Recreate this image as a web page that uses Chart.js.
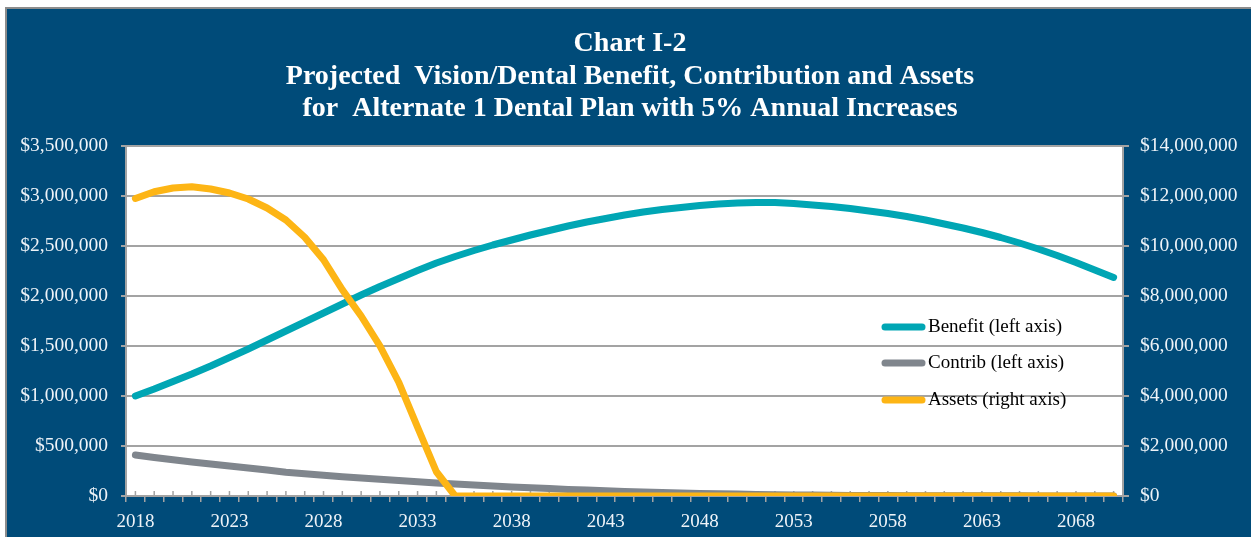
<!DOCTYPE html>
<html>
<head>
<meta charset="utf-8">
<script src="https://cdn.jsdelivr.net/npm/chart.js@4.4.1/dist/chart.umd.min.js"></script>
<style>
  html, body { margin: 0; padding: 0; background: #ffffff; overflow: hidden; }
  #wrap { position: relative; width: 1251px; height: 537px; overflow: hidden; }
  #panel { position: absolute; left: 5px; top: 7px; width: 1244px; height: 528px;
           background: #004b79; border-left: 2px solid #8c8c8c; border-top: 2px solid #8c8c8c; }
  #c { position: absolute; left: 0; top: 0; }
</style>
</head>
<body>
<div id="wrap">
  <div id="panel"></div>
  <canvas id="c" width="1251" height="537"></canvas>
</div>
<script>
const titleLines = [
  'Chart I-2',
  'Projected  Vision/Dental Benefit, Contribution and Assets',
  'for  Alternate 1 Dental Plan with 5% Annual Increases'
];

const years = [
  '2018','2019','2020','2021','2022','2023','2024','2025','2026','2027',
  '2028','2029','2030','2031','2032','2033','2034','2035','2036','2037',
  '2038','2039','2040','2041','2042','2043','2044','2045','2046','2047',
  '2048','2049','2050','2051','2052','2053','2054','2055','2056','2057',
  '2058','2059','2060','2061','2062','2063','2064','2065','2066','2067',
  '2068','2069','2070'
];

const xTickLabels = ['2018','2023','2028','2033','2038','2043','2048','2053','2058','2063','2068'];
const leftTickValues = [0, 500000, 1000000, 1500000, 2000000, 2500000, 3000000, 3500000];
const rightTickValues = [0, 2000000, 4000000, 6000000, 8000000, 10000000, 12000000, 14000000];

const benefit = [
  1000000, 1070000, 1145000, 1220000, 1300000, 1385000, 1470000, 1560000, 1650000, 1740000,
  1830000, 1920000, 2010000, 2095000, 2175000, 2255000, 2330000, 2395000, 2455000, 2510000,
  2560000, 2610000, 2655000, 2700000, 2740000, 2775000, 2810000, 2840000, 2865000, 2885000,
  2905000, 2920000, 2930000, 2935000, 2935000, 2925000, 2910000, 2895000, 2875000, 2850000,
  2825000, 2795000, 2760000, 2720000, 2680000, 2635000, 2585000, 2530000, 2470000, 2405000,
  2335000, 2260000, 2185000
];

const contrib = [
  410000, 385000, 362000, 340000, 319000, 299000, 280000, 260000, 238000, 222000,
  207000, 193000, 180000, 167000, 154000, 142000, 131000, 120000, 110000, 100000,
  91000, 82000, 74000, 66000, 59000, 52000, 46000, 40000, 35000, 30000,
  26000, 22000, 19000, 16000, 13000, 11000, 9000, 7500, 6000, 5000,
  4000, 3500, 3000, 2500, 2000, 1800, 1600, 1400, 1200, 1000,
  900, 800, 700
];

const assets = [
  11900000, 12170000, 12320000, 12370000, 12280000, 12120000, 11880000, 11520000, 11040000, 10350000,
  9450000, 8250000, 7200000, 6000000, 4550000, 2750000, 970000, 0, 0, 0,
  0, 0, 0, 0, 0, 0, 0, 0, 0, 0,
  0, 0, 0, 0, 0, 0, 0, 0, 0, 0,
  0, 0, 0, 0, 0, 0, 0, 0, 0, 0,
  0, 0, 0
];

const seriesNames = ['Benefit (left axis)', 'Contrib (left axis)', 'Assets (right axis)'];
const seriesColors = ['#00a6b4', '#80868d', '#fdb515'];

const serif = '"Liberation Serif", "Times New Roman", serif';
const labelColor = '#eef3f8';
const gridColor = '#a3a3a3';

function money(v) { return '$' + Number(v).toLocaleString('en-US'); }

const plotBg = {
  id: 'plotBg',
  beforeDraw(chart) {
    const a = chart.chartArea, ctx = chart.ctx;
    ctx.save();
    ctx.fillStyle = '#ffffff';
    ctx.fillRect(a.left, a.top, a.right - a.left, a.bottom - a.top);
    ctx.restore();
  }
};

// small inner tick marks at category centres, as in the original axis
const innerTicks = {
  id: 'innerTicks',
  beforeDatasetsDraw(chart) {
    const x = chart.scales.x, ctx = chart.ctx, b = chart.chartArea.bottom;
    ctx.save();
    ctx.strokeStyle = gridColor;
    ctx.lineWidth = 1.5;
    ctx.beginPath();
    for (let i = 0; i < chart.data.labels.length; i++) {
      const px = x.getPixelForValue(i);
      ctx.moveTo(px, b);
      ctx.lineTo(px, b - 5);
    }
    ctx.stroke();
    ctx.restore();
  }
};

const innerLegend = {
  id: 'innerLegend',
  afterDatasetsDraw(chart) {
    const ctx = chart.ctx;
    const rows = [327, 363, 400];
    ctx.save();
    chart.data.datasets.forEach((ds, i) => {
      const y = rows[i];
      ctx.strokeStyle = ds.borderColor;
      ctx.lineWidth = 7;
      ctx.lineCap = 'round';
      ctx.beginPath();
      ctx.moveTo(885, y);
      ctx.lineTo(922, y);
      ctx.stroke();
      ctx.fillStyle = '#000000';
      ctx.font = '19px ' + serif;
      ctx.textBaseline = 'middle';
      ctx.textAlign = 'left';
      ctx.fillText(ds.label, 928, y);
    });
    ctx.restore();
  }
};

new Chart(document.getElementById('c'), {
  type: 'line',
  data: {
    labels: years,
    datasets: [
      { label: seriesNames[0], data: benefit, yAxisID: 'yL', borderColor: seriesColors[0], order: 1 },
      { label: seriesNames[1], data: contrib, yAxisID: 'yL', borderColor: seriesColors[1], order: 2 },
      { label: seriesNames[2], data: assets, yAxisID: 'yR', borderColor: seriesColors[2], order: 0 }
    ]
  },
  options: {
    responsive: false,
    animation: false,
    events: [],
    datasets: {
      line: {
        borderWidth: 7, pointRadius: 0, tension: 0, fill: false,
        borderCapStyle: 'round', borderJoinStyle: 'round'
      }
    },
    layout: { padding: { left: 9, right: 0, top: 0, bottom: 0 } },
    plugins: {
      legend: { display: false },
      tooltip: { enabled: false },
      title: {
        display: true,
        text: titleLines,
        color: '#ffffff',
        font: { family: serif, size: 28, weight: 'bold', lineHeight: 1.15 },
        padding: { top: 28, bottom: 21.4 }
      }
    },
    scales: {
      x: {
        type: 'category',
        offset: true,
        grid: { display: true, drawOnChartArea: false, drawTicks: true, tickLength: 6, offset: true, color: gridColor, lineWidth: 1.5 },
        border: { display: true, color: gridColor, width: 2 },
        ticks: {
          autoSkip: false, maxRotation: 0, minRotation: 0, padding: 9,
          color: labelColor, font: { family: serif, size: 19 },
          callback(value) { const l = this.getLabelForValue(value); return xTickLabels.includes(l) ? l : ''; }
        },
        afterFit(s) { s.height = 41; }
      },
      yL: {
        type: 'linear', position: 'left', min: 0, max: 3500000,
        afterBuildTicks(s) { s.ticks = leftTickValues.map(v => ({ value: v })); },
        grid: { color: gridColor, lineWidth: 2, tickLength: 5, drawTicks: true },
        border: { display: true, color: gridColor, width: 2 },
        ticks: { padding: 13, color: labelColor, font: { family: serif, size: 19.5 }, callback: v => money(v) },
        afterFit(s) { s.width = 117; }
      },
      yR: {
        type: 'linear', position: 'right', min: 0, max: 14000000,
        afterBuildTicks(s) { s.ticks = rightTickValues.map(v => ({ value: v })); },
        grid: { drawOnChartArea: false, color: gridColor, lineWidth: 2, tickLength: 6, drawTicks: true },
        border: { display: true, color: gridColor, width: 2 },
        ticks: { padding: 11, color: labelColor, font: { family: serif, size: 19.5 }, callback: v => money(v) },
        afterFit(s) { s.width = 128; }
      }
    }
  },
  plugins: [plotBg, innerTicks, innerLegend]
});
</script>
</body>
</html>
